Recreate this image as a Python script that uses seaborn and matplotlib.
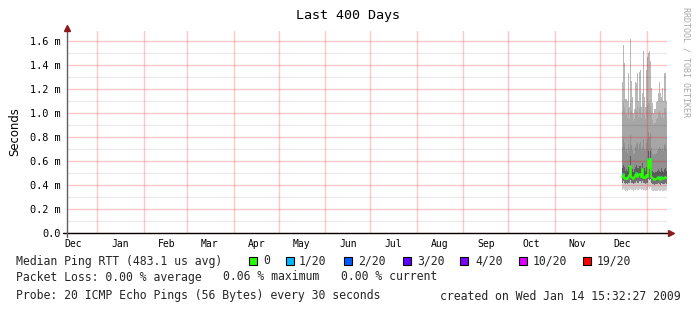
import numpy as np
import pandas as pd
import matplotlib
matplotlib.use("Agg")
import matplotlib.pyplot as plt
import matplotlib.dates as mdates
from matplotlib.patches import Rectangle
from matplotlib.ticker import FixedLocator, FixedFormatter, NullFormatter
import seaborn as sns

# ------------------------------------------------------------------ data
title = "Last 400 Days"
y_label = "Seconds"
view_start = "2007-12-11 18:00"
graph_end = "2009-01-14 15:32:27"
data_start = "2008-12-15 15:32"
step_hours = 16

month_starts = ["2008-01-01", "2008-02-01", "2008-03-01", "2008-04-01", "2008-05-01",
                "2008-06-01", "2008-07-01", "2008-08-01", "2008-09-01", "2008-10-01",
                "2008-11-01", "2008-12-01", "2009-01-01"]
month_label_dates = ["2007-12-16", "2008-01-16", "2008-02-16", "2008-03-16", "2008-04-16",
                     "2008-05-16", "2008-06-16", "2008-07-16", "2008-08-16", "2008-09-16",
                     "2008-10-16", "2008-11-16", "2008-12-16"]
month_labels = ["Dec", "Jan", "Feb", "Mar", "Apr", "May", "Jun", "Jul", "Aug", "Sep",
                "Oct", "Nov", "Dec"]

y_ticks = [0.0, 0.2, 0.4, 0.6, 0.8, 1.0, 1.2, 1.4, 1.6]
y_tick_labels = ["0.0", "0.2 m", "0.4 m", "0.6 m", "0.8 m", "1.0 m", "1.2 m", "1.4 m", "1.6 m"]
y_minor = [0.1, 0.3, 0.5, 0.7, 0.9, 1.1, 1.3, 1.5]
y_max = 1.683

# smoke percentiles per 16h column (milliseconds)
smoke_max = [1.26, 1.57, 1.42, 1.12, 1.12, 1.10, 1.33, 1.05, 1.62, 1.27, 1.13, 1.00, 1.03, 1.26, 1.25,
             1.33, 1.10, 1.34, 1.36, 1.05, 1.17, 1.52, 1.13, 1.05, 1.36, 1.47, 1.50, 1.52, 1.43, 1.21,
             1.08, 1.00, 1.03, 1.03, 1.09, 1.10, 1.17, 1.26, 1.17, 1.13, 1.21, 1.10, 1.33, 1.33, 1.10]
smoke_hi = [1.02, 1.08, 1.05, 0.98, 1.00, 0.96, 1.04, 0.95, 1.08, 1.02, 0.99, 0.93, 0.95, 1.03, 1.02,
            1.05, 0.97, 1.04, 1.06, 0.96, 1.00, 1.08, 0.98, 0.95, 1.05, 1.07, 1.08, 1.08, 1.06, 1.00,
            0.94, 0.90, 0.92, 0.92, 0.95, 0.96, 0.99, 1.02, 0.99, 0.97, 1.00, 0.96, 1.04, 1.04, 0.97]
smoke_mid = [0.72, 0.78, 0.75, 0.68, 0.70, 0.67, 0.74, 0.68, 0.82, 0.73, 0.69, 0.66, 0.67, 0.72, 0.74,
             0.75, 0.69, 0.74, 0.76, 0.68, 0.72, 0.78, 0.70, 0.68, 0.75, 0.78, 0.84, 0.80, 0.83, 0.71,
             0.67, 0.65, 0.66, 0.66, 0.67, 0.68, 0.70, 0.72, 0.70, 0.69, 0.71, 0.68, 0.74, 0.73, 0.69]
smoke_q3 = [0.54, 0.57, 0.55, 0.52, 0.53, 0.52, 0.55, 0.54, 0.64, 0.54, 0.53, 0.51, 0.53, 0.55, 0.57,
            0.54, 0.54, 0.56, 0.56, 0.53, 0.58, 0.54, 0.54, 0.52, 0.55, 0.54, 0.68, 0.60, 0.68, 0.54,
            0.52, 0.51, 0.50, 0.51, 0.51, 0.52, 0.53, 0.52, 0.51, 0.54, 0.52, 0.51, 0.53, 0.54, 0.52]
median = [0.47, 0.49, 0.46, 0.45, 0.46, 0.45, 0.47, 0.48, 0.56, 0.47, 0.46, 0.45, 0.47, 0.48, 0.50,
          0.47, 0.48, 0.49, 0.49, 0.47, 0.53, 0.46, 0.47, 0.46, 0.48, 0.47, 0.62, 0.54, 0.62, 0.47,
          0.46, 0.45, 0.44, 0.45, 0.45, 0.46, 0.47, 0.45, 0.44, 0.47, 0.46, 0.45, 0.46, 0.47, 0.46]
smoke_q1 = [0.42, 0.43, 0.42, 0.41, 0.42, 0.41, 0.42, 0.42, 0.44, 0.42, 0.42, 0.41, 0.42, 0.42, 0.43,
            0.42, 0.42, 0.43, 0.43, 0.42, 0.43, 0.42, 0.42, 0.41, 0.42, 0.42, 0.45, 0.44, 0.45, 0.42,
            0.41, 0.41, 0.40, 0.41, 0.41, 0.41, 0.42, 0.41, 0.40, 0.42, 0.41, 0.41, 0.41, 0.42, 0.41]
smoke_min = [0.36, 0.37, 0.36, 0.35, 0.36, 0.35, 0.36, 0.36, 0.37, 0.36, 0.36, 0.35, 0.36, 0.36, 0.37,
             0.36, 0.36, 0.37, 0.37, 0.36, 0.37, 0.36, 0.36, 0.35, 0.36, 0.36, 0.38, 0.37, 0.38, 0.36,
             0.35, 0.35, 0.35, 0.35, 0.35, 0.35, 0.36, 0.35, 0.35, 0.36, 0.35, 0.35, 0.35, 0.36, 0.35]
loss = [0, 1, 0, 0, 0, 0, 0, 0, 0, 0, 0, 0, 0, 0, 1, 0, 0, 0, 0, 0, 0, 0, 0, 0, 0, 0, 1, 0, 0, 0,
        0, 0, 0, 0, 0, 0, 0, 0, 0, 1, 0, 0, 0, 0, 0]

loss_thresholds = [0, 1, 2, 3, 4, 10, 19]
loss_labels = ["0", "1/20", "2/20", "3/20", "4/20", "10/20", "19/20"]
loss_colors = ["#26ff00", "#00b8ff", "#0059ff", "#5e00ff", "#7e00ff", "#dd00ff", "#ff0000"]

legend_median = "Median Ping RTT (483.1 us avg)"
legend_loss = ["Packet Loss: 0.00 % average", "0.06 % maximum", "0.00 % current"]
legend_probe = "Probe: 20 ICMP Echo Pings (56 Bytes) every 30 seconds"
legend_created = "created on Wed Jan 14 15:32:27 2009"
watermark = "RRDTOOL / TOBI OETIKER"

# ------------------------------------------------------------------ style
sns.set_style("white")
plt.rcParams["font.family"] = ["DejaVu Sans Mono", "DejaVu Sans"]

W, H = 697, 313
fig = plt.figure(figsize=(W / 100, H / 100), dpi=100)
fig.patch.set_facecolor("white")

def fx(x):
    return x / W

def fy(y):
    return 1 - y / H

L, R, T, B = 67, 667, 31, 233
ax = fig.add_axes([fx(L), fy(B), (R - L) / W, (B - T) / H])
ax.set_facecolor("white")

edges = pd.date_range(data_start, periods=len(median) + 1, freq=f"{step_hours}h")

def ext(a):
    a = np.asarray(a, dtype=float)
    return np.append(a, a[-1])

bands = [
    (smoke_min, smoke_q1, "#cdcdcd"),
    (smoke_q1, median, "#707070"),
    (median, smoke_q3, "#5c5c5c"),
    (smoke_q3, smoke_mid, "#909090"),
    (smoke_mid, smoke_hi, "#a6a6a6"),
    (smoke_hi, smoke_max, "#b9b9b9"),
]
for lo, hi, c in bands:
    ax.fill_between(edges, ext(lo), ext(hi), step="post", color=c, lw=0, zorder=1)

sns.lineplot(x=edges, y=ext(median), drawstyle="steps-post", color=loss_colors[0],
             lw=1.2, ax=ax, zorder=4)

for i, n in enumerate(loss):
    if n > 0:
        k = max(j for j, t in enumerate(loss_thresholds) if t <= n)
        ax.hlines(median[i], edges[i], edges[i + 1], color=loss_colors[k], lw=1.2, zorder=5)

ax.set_xlim(pd.Timestamp(view_start), pd.Timestamp(graph_end))
ax.set_ylim(0, y_max)
ax.set_xlabel("")
ax.set_ylabel("")

# grid / ticks
ax.xaxis.set_major_locator(FixedLocator(mdates.date2num(pd.to_datetime(month_starts))))
ax.xaxis.set_major_formatter(NullFormatter())
ax.xaxis.set_minor_locator(FixedLocator(mdates.date2num(pd.to_datetime(month_label_dates))))
ax.xaxis.set_minor_formatter(FixedFormatter(month_labels))
ax.yaxis.set_major_locator(FixedLocator(y_ticks))
ax.yaxis.set_major_formatter(FixedFormatter(y_tick_labels))
ax.yaxis.set_minor_locator(FixedLocator(y_minor))
ax.yaxis.set_minor_formatter(NullFormatter())

ax.set_axisbelow(False)
ax.xaxis.grid(True, which="major", color="red", alpha=0.21, lw=1.0)
ax.yaxis.grid(True, which="major", color="red", alpha=0.21, lw=1.0)
ax.yaxis.grid(True, which="minor", color="black", alpha=0.08, lw=1.0)
ax.xaxis.grid(False, which="minor")

ax.tick_params(axis="x", which="major", length=2.5, width=1.0, color="#f7c4c4", direction="out")
ax.tick_params(axis="x", which="minor", length=0, pad=4.5, labelsize=7, labelcolor="black")
ax.tick_params(axis="y", which="both", length=0, pad=4.5, labelsize=7.4, labelcolor="black")

for s in ax.spines.values():
    s.set_visible(False)

# axis lines with arrows
aw, ah = R - L, B - T
ax.plot([-4 / aw, 1 + 1 / aw], [0, 0], transform=ax.transAxes, color="black",
        lw=1.0, clip_on=False, zorder=6)
ax.plot([1 + 4 / aw], [0], marker=">", ms=4, color="#8b1a1a", mec="#8b1a1a",
        transform=ax.transAxes, clip_on=False, zorder=6)
ax.plot([0, 0], [-4 / ah, 1 + 1 / ah], transform=ax.transAxes, color="#606060",
        lw=1.0, clip_on=False, zorder=6)
ax.plot([0], [1 + 3 / ah], marker="^", ms=4, color="#8b1a1a", mec="#8b1a1a",
        transform=ax.transAxes, clip_on=False, zorder=6)

# title, ylabel, watermark
fig.text(fx(348.5), fy(15), title, ha="center", va="center", fontsize=9.6, color="black")
fig.text(fx(15), fy(132), y_label, ha="center", va="center", rotation=90,
         fontsize=8.4, family="DejaVu Sans", color="black")
fig.text(fx(686), fy(7), watermark, ha="center", va="top", rotation=270,
         fontsize=6.0, color="#a8a8a8")

# legend
fs = 8.3
fig.text(fx(16), fy(261), legend_median, ha="left", va="center", fontsize=fs)
sq_x = [249, 286, 344, 403, 460, 519, 583]
lab_x = [263, 299, 358, 417, 475, 533, 597]
for sx, lx, lab, c in zip(sq_x, lab_x, loss_labels, loss_colors):
    fig.add_artist(Rectangle((fx(sx), fy(265)), 8 / W, 8 / H, transform=fig.transFigure,
                             facecolor=c, edgecolor="black", lw=0.8))
    fig.text(fx(lx), fy(261), lab, ha="left", va="center", fontsize=fs)

for x0, t in zip([16, 223, 341], legend_loss):
    fig.text(fx(x0), fy(277), t, ha="left", va="center", fontsize=fs)
fig.text(fx(16), fy(296), legend_probe, ha="left", va="center", fontsize=fs)
fig.text(fx(681), fy(296), legend_created, ha="right", va="center", fontsize=fs)

fig.savefig("out.png", dpi=100, facecolor="white")
